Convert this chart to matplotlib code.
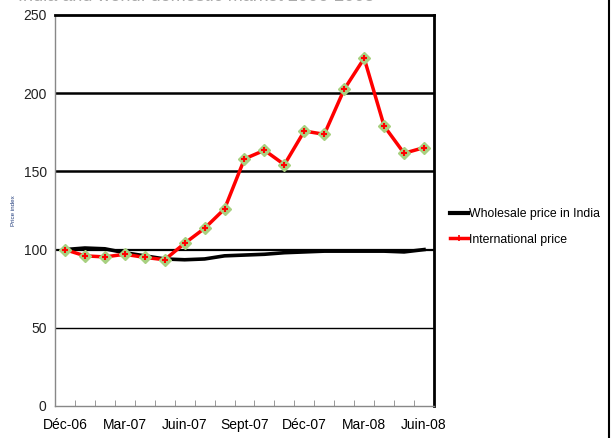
import matplotlib.pyplot as plt
from matplotlib.lines import Line2D

plt.rcParams['font.family'] = ['Liberation Sans Narrow', 'Liberation Sans', 'DejaVu Sans']

months = ['Déc-06', 'Jan-07', 'Fév-07', 'Mar-07', 'Avr-07', 'Mai-07', 'Juin-07',
          'Juil-07', 'Août-07', 'Sept-07', 'Oct-07', 'Nov-07', 'Déc-07',
          'Jan-08', 'Fév-08', 'Mar-08', 'Avr-08', 'Mai-08', 'Juin-08']
shown_labels = ['Déc-06', 'Mar-07', 'Juin-07', 'Sept-07', 'Déc-07', 'Mar-08', 'Juin-08']

wholesale_india = [100, 101, 100.5, 98, 96, 94, 93.5, 94, 96, 96.5, 97,
                   98, 98.5, 99, 99, 99, 99, 98.5, 100]
international = [100, 96, 95.3, 97, 95, 93.5, 104, 113.6, 126, 158, 163.5,
                 154.3, 175.8, 173.7, 202.5, 222.3, 179, 161.6, 165.2]

fig = plt.figure(figsize=(6.13, 4.38), dpi=100)
ax = fig.add_axes([0.0897, 0.0731, 0.6183, 0.8927])

x = list(range(len(months)))

# horizontal gridlines
for v, lw in [(50, 1.0), (100, 1.6), (150, 1.8), (200, 1.8)]:
    ax.axhline(v, color='black', lw=lw, zorder=1)

ax.plot(x, wholesale_india, color='black', lw=2.6, zorder=3,
        label='Wholesale price in India')
ax.plot(x, international, color='#ff0000', lw=2.5, zorder=4,
        marker='D', markersize=6, markerfacecolor='#a8d080',
        markeredgecolor='#a8d080', label='International price')
ax.plot(x, international, ls='none', marker='+', markersize=5,
        markeredgewidth=1.5, color='#ff0000', zorder=5)

ax.set_ylim(0, 250)
ax.set_xlim(-0.5, len(months) - 0.5)
ax.set_yticks([0, 50, 100, 150, 200, 250])
ax.tick_params(axis='y', length=0, labelsize=10, colors='#222222', pad=6)

ax.set_xticks([i - 0.5 for i in range(1, len(months))], minor=True)
ax.set_xticks([months.index(m) for m in shown_labels])
ax.set_xticklabels(shown_labels)
ax.tick_params(axis='x', which='major', length=0, labelsize=10, pad=9)
ax.tick_params(axis='x', which='minor', direction='in', length=4, color='#888888')

for side in ['left', 'bottom']:
    ax.spines[side].set_color('#888888')
    ax.spines[side].set_linewidth(1)
for side in ['top', 'right']:
    ax.spines[side].set_color('black')
    ax.spines[side].set_linewidth(2)

ax.set_ylabel('Price index', fontsize=4.5, color='#1f3a7a', labelpad=5)

handles = [Line2D([], [], color='black', lw=3),
           Line2D([], [], color='#ff0000', lw=2.5, marker='+', markersize=4,
                  markeredgewidth=1.2, markerfacecolor='#a8d080')]
fig.legend(handles, ['Wholesale price in India', 'International price'],
           loc='center left', bbox_to_anchor=(0.734, 0.482), frameon=False,
           fontsize=8.8, handlelength=1.5, handletextpad=0.1, labelspacing=1.1,
           borderpad=0, borderaxespad=0)

# partly cut title at the top edge, and right border of the picture
fig.text(0.03, 1 - 5 / 438, 'India and world: domestic market 2006-2008',
         fontsize=13, color='#aaaaaa', va='bottom', ha='left')
fig.add_artist(Line2D([0.994, 0.994], [0, 1], color='black', lw=1.5,
                      transform=fig.transFigure))

fig.savefig('out.png', dpi=100, facecolor='white')
